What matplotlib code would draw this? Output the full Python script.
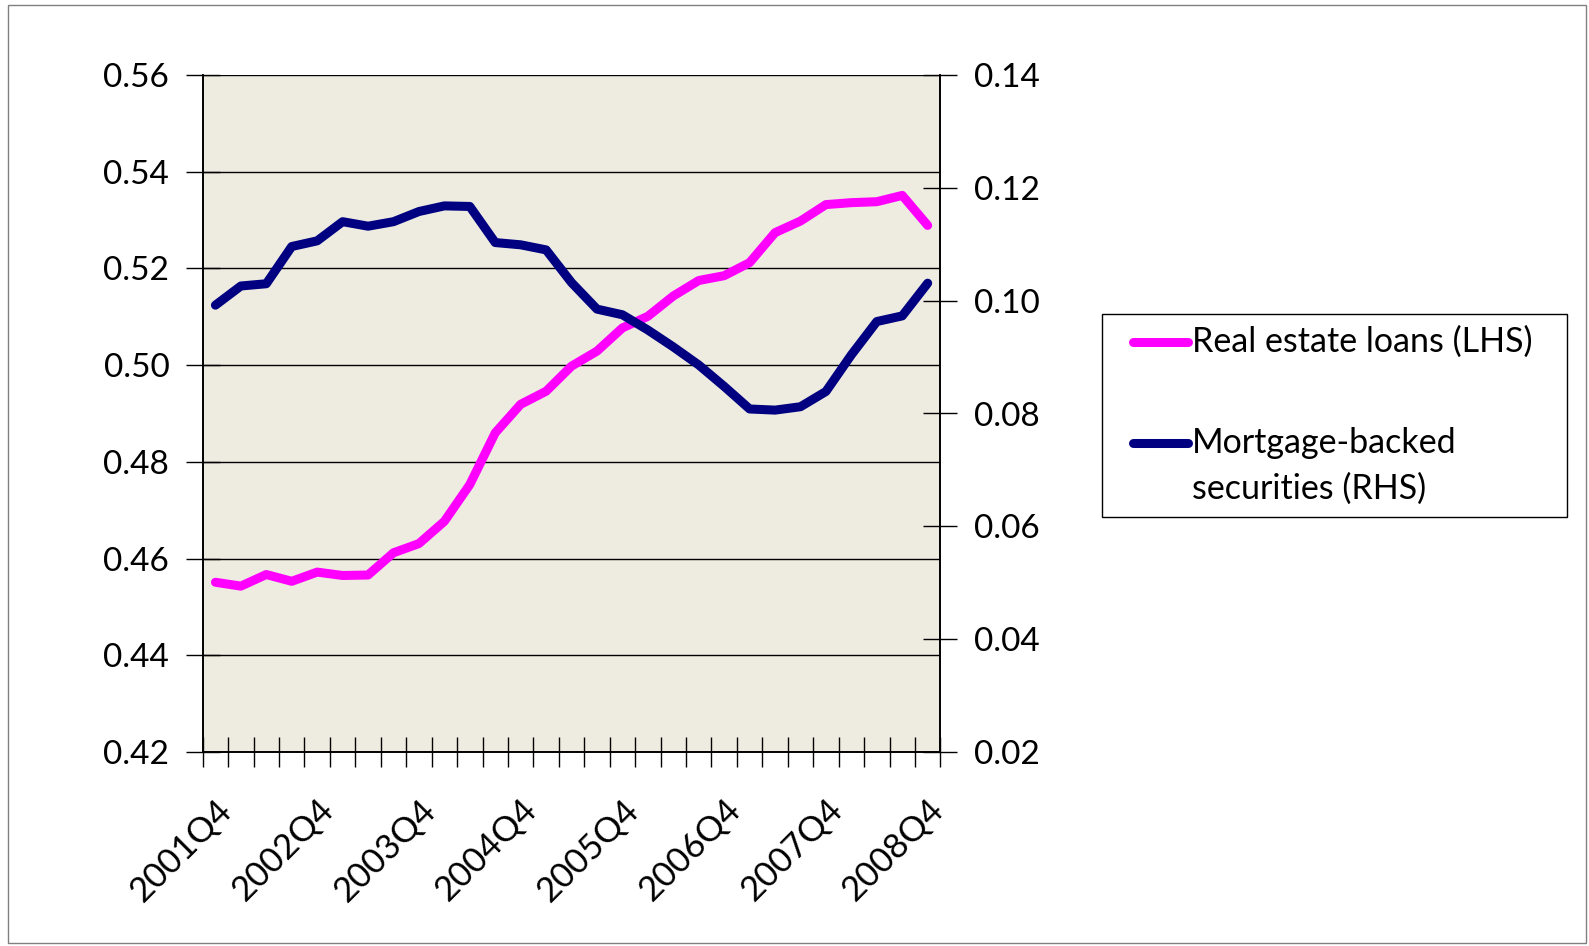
import numpy as np
import matplotlib.pyplot as plt
from matplotlib.patches import Rectangle
from matplotlib.lines import Line2D

plt.rcParams['font.family'] = ['Lato', 'DejaVu Sans']

# 2001Q4 .. 2008Q4, quarterly
quarters = [f"{y}Q{q}" for y in range(2001, 2009) for q in range(1, 5)][3:]
real_estate = [0.4551, 0.4543, 0.4567, 0.4553, 0.4572, 0.4565, 0.4566, 0.4612,
               0.4631, 0.4677, 0.4753, 0.4860, 0.4919, 0.4946, 0.4998, 0.5029,
               0.5077, 0.5101, 0.5143, 0.5175, 0.5185, 0.5212, 0.5274, 0.5298,
               0.5332, 0.5336, 0.5338, 0.5351, 0.5289]
mbs = [0.0992, 0.1026, 0.1030, 0.1096, 0.1106, 0.1140, 0.1132, 0.1140,
       0.1158, 0.1168, 0.1167, 0.1103, 0.1099, 0.1090, 0.1032, 0.0985,
       0.0975, 0.0948, 0.0918, 0.0886, 0.0848, 0.0808, 0.0806, 0.0812,
       0.0839, 0.0904, 0.0963, 0.0973, 0.1031]
left_ticks = [0.42, 0.44, 0.46, 0.48, 0.50, 0.52, 0.54, 0.56]
right_ticks = [0.02, 0.04, 0.06, 0.08, 0.10, 0.12, 0.14]
legend_lines = [['Real estate loans (LHS)'], ['Mortgage-backed', 'securities (RHS)']]
colors = ['#FF00FF', '#000080']

x = np.arange(len(quarters))
W, H = 1589, 946

fig = plt.figure(figsize=(W / 100, H / 100), dpi=100)
fig.patches.append(Rectangle((0.005, 0.003), 0.993, 0.992, transform=fig.transFigure,
                             fill=False, edgecolor='#808080', linewidth=1))
ax = fig.add_axes([202.7 / W, 1 - 752 / H, (940.4 - 202.7) / W, (752 - 75) / H])
ax.set_facecolor('#EEECE1')
ax2 = ax.twinx()

ax.plot(x, real_estate, color=colors[0], lw=6.5, solid_capstyle='round')
ax2.plot(x, mbs, color=colors[1], lw=6.5, solid_capstyle='round')

ax.set_xlim(-0.5, len(x) - 0.5)
ax.set_ylim(0.42, 0.56)
ax2.set_ylim(0.02, 0.14)
ax.set_yticks(left_ticks)
ax.set_yticklabels([f"{v:.2f}" for v in left_ticks])
ax2.set_yticks(right_ticks)
ax2.set_yticklabels([f"{v:.2f}" for v in right_ticks])
ax.yaxis.grid(True, color='#000000', lw=1)
ax.set_axisbelow(True)

ax.set_xticks(np.arange(-0.5, len(x) + 0.5, 1), minor=True)
ax.set_xticks(x[::4])
ax.set_xticklabels(quarters[::4], rotation=45, ha='right', rotation_mode='anchor')
ax.tick_params(axis='x', which='major', length=0, labelsize=25, pad=30)
ax.tick_params(axis='x', which='minor', direction='inout', length=22, width=1)
ax.tick_params(axis='y', direction='inout', length=24, width=1, labelsize=24, pad=12)
ax2.tick_params(axis='y', direction='inout', length=24, width=1, labelsize=24, pad=12)

for a in (ax, ax2):
    a.spines['top'].set_visible(False)
    for s in ('left', 'right', 'bottom'):
        a.spines[s].set_color('#000000')
        a.spines[s].set_linewidth(1.2)

# legend box drawn by hand (Excel style: handle aligned with first text line)
fig.patches.append(Rectangle((1101.6 / W, 1 - 516.8 / H), 465.2 / W, 202.6 / H,
                             transform=fig.transFigure, fill=False,
                             edgecolor='#000000', linewidth=1))
for yy, col, lines in [(341.5, colors[0], legend_lines[0]),
                       (442.9, colors[1], legend_lines[1])]:
    fig.add_artist(Line2D([1133 / W, 1188 / W], [1 - yy / H, 1 - yy / H],
                          color=col, lw=6.5, solid_capstyle='round',
                          transform=fig.transFigure))
    for k, txt in enumerate(lines):
        fig.text(1191.5 / W, 1 - (yy + 45.6 * k) / H, txt, fontsize=24.5,
                 va='center', ha='left', transform=fig.transFigure)

fig.savefig('out.png', dpi=100)
